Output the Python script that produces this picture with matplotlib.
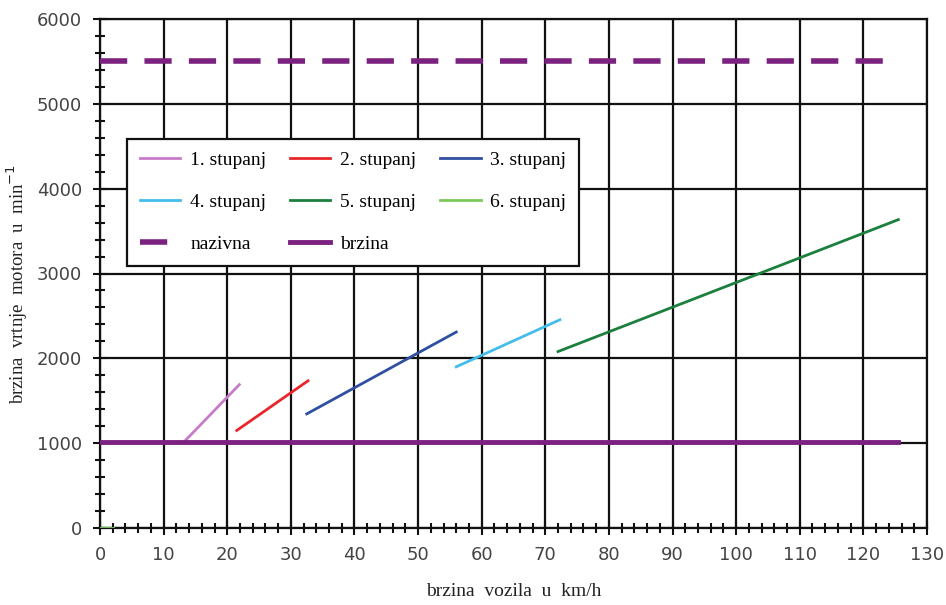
import numpy as np
import matplotlib
matplotlib.use('Agg')
import matplotlib.pyplot as plt
from matplotlib.ticker import MultipleLocator

# gear lines: (start speed, start rpm) -> (end speed, end rpm)
gear_names = ['1. stupanj', '2. stupanj', '3. stupanj', '4. stupanj', '5. stupanj', '6. stupanj']
gear_speed = [[13.4, 21.9], [21.5, 32.7], [32.5, 56.0], [56.0, 72.3], [72.0, 125.5], [0.0, 2.0]]
gear_rpm = [[1030, 1690], [1150, 1735], [1345, 2310], [1900, 2455], [2080, 3635], [0, 0]]
gear_colors = ['#c77cc7', '#e8262b', '#2f4fa0', '#45bdea', '#1b7f3d', '#7cc95a']

nominal_speed = [0, 125.5]
nominal_rpm = [5500, 5500]
idle_speed = [0, 125.5]
idle_rpm = [1015, 1015]

fig = plt.figure(figsize=(9.46, 6.05), dpi=100)
ax = fig.add_axes([100 / 946, 1 - 528 / 605, 827 / 946, 509 / 605])

lines = {}
for name, xs, ys, c in zip(gear_names, gear_speed, gear_rpm, gear_colors):
    lines[name], = ax.plot(xs, ys, color=c, lw=2, label=name, zorder=3)

lines['nazivna'], = ax.plot(nominal_speed, nominal_rpm, color='#7b2180', lw=4,
                            dashes=(4.9, 3.1), label='nazivna', zorder=3)
lines['brzina'], = ax.plot(idle_speed, idle_rpm, color='#7b2180', lw=3.5,
                           label='brzina', zorder=3)

ax.set_xlim(0, 130)
ax.set_ylim(0, 6000)
ax.xaxis.set_major_locator(MultipleLocator(10))
ax.xaxis.set_minor_locator(MultipleLocator(2))
ax.yaxis.set_major_locator(MultipleLocator(1000))
ax.yaxis.set_minor_locator(MultipleLocator(200))
ax.grid(True, which='major', color='#111111', lw=1.6)
ax.set_axisbelow(True)
for s in ax.spines.values():
    s.set_color('#111111')
    s.set_linewidth(1.6)
ax.tick_params(which='both', direction='inout', color='#111111', width=1.5,
               labelsize=13, labelcolor='#444444')
ax.tick_params(which='major', length=10, pad=8)
ax.tick_params(which='minor', length=7)

serif = ['Liberation Serif', 'DejaVu Serif']
ax.set_xlabel('brzina  vozila  u  km/h', fontsize=14, family=serif, color='#222222', labelpad=14)
ax.set_ylabel('brzina  vrtnje  motora  u  min$^{-1}$', fontsize=13.5, family=serif,
              color='#222222')
ax.yaxis.set_label_coords(-0.085, 0.48)

order = ['1. stupanj', '4. stupanj', 'nazivna', '2. stupanj', '5. stupanj', 'brzina',
         '3. stupanj', '6. stupanj']
leg = ax.legend([lines[k] for k in order], order, ncol=3, loc='upper left',
                bbox_to_anchor=(27 / 827, 1 - 120 / 509), borderaxespad=0,
                frameon=True, fancybox=False,
                edgecolor='#111111', framealpha=1, prop={'family': serif, 'size': 14},
                handlelength=2.1, handletextpad=0.5, columnspacing=1.2,
                labelspacing=1.25, borderpad=0.65)
leg.get_frame().set_linewidth(1.6)

fig.savefig('out.png', dpi=100)
